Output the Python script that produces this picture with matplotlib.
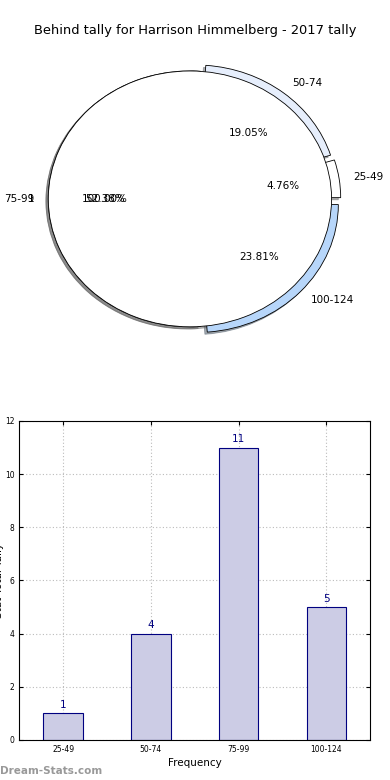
import numpy as np
import matplotlib.pyplot as plt

# tally data
ranges = ["25-49", "50-74", "75-99", "100-124"]
counts = [1, 4, 11, 5]
explode = [0.065, 0.06, 0.0, 0.065]
slice_colors = ["white", "#e6eefc", "white", "#b7d6fa"]

# second (single) pie that got drawn on top
extra_labels = ["1"]
extra_counts = [1]

fig = plt.figure(figsize=(3.9, 7.8), dpi=100)

shadow = {"ox": -0.012, "oy": -0.012, "shade": 0.6}

# pie chart
ax1 = fig.add_axes([0.033, 0.540, 0.908, 0.410])
ax1.pie(counts, labels=ranges, explode=explode, colors=slice_colors,
        autopct="%.2f%%", shadow=shadow, startangle=0,
        wedgeprops={"edgecolor": "black", "linewidth": 0.6},
        textprops={"fontsize": 7.5})
ax1.pie(extra_counts, labels=extra_labels, colors=["white"],
        autopct="%.2f%%", shadow=shadow, startangle=0,
        wedgeprops={"edgecolor": "black", "linewidth": 0.6},
        textprops={"fontsize": 7.5})
ax1.set_aspect("auto")
ax1.set_xlim(-1.25, 1.25)
ax1.set_ylim(-1.25, 1.25)
fig.text(0.5, 0.961, "Behind tally for Harrison Himmelberg - 2017 tally",
         ha="center", va="center", fontsize=9.4)

# bar chart
ax2 = fig.add_axes([0.0495, 0.0513, 0.8995, 0.409])
x = np.arange(len(ranges))
bars = ax2.bar(x, counts, width=0.45, color="#ccccE5", edgecolor="navy", linewidth=0.8)
for b, v in zip(bars, counts):
    ax2.text(b.get_x() + b.get_width() / 2, v + 0.12, str(v),
             ha="center", va="bottom", color="navy", fontsize=7.5)
ax2.set_xlim(-0.5, 3.5)
ax2.set_ylim(0, 12)
ax2.set_yticks(range(0, 13, 2))
ax2.set_xticks(x)
ax2.set_xticklabels(ranges)
ax2.tick_params(labelsize=5.5, direction="in", top=True, right=True, length=3)
ax2.grid(True, linestyle=(0, (1, 2)), color="#bbbbbb", linewidth=0.8)
ax2.set_axisbelow(True)
ax2.set_xlabel("Frequency", fontsize=7.5, labelpad=3)
fig.text(-0.003, 0.256, "Stat Total Tally", rotation=90, ha="center", va="center", fontsize=7.5)

fig.text(0.0, 0.012, "Dream-Stats.com", color="#999999", fontsize=7.5,
         fontweight="bold", ha="left", va="center")

plt.savefig("out.png")
